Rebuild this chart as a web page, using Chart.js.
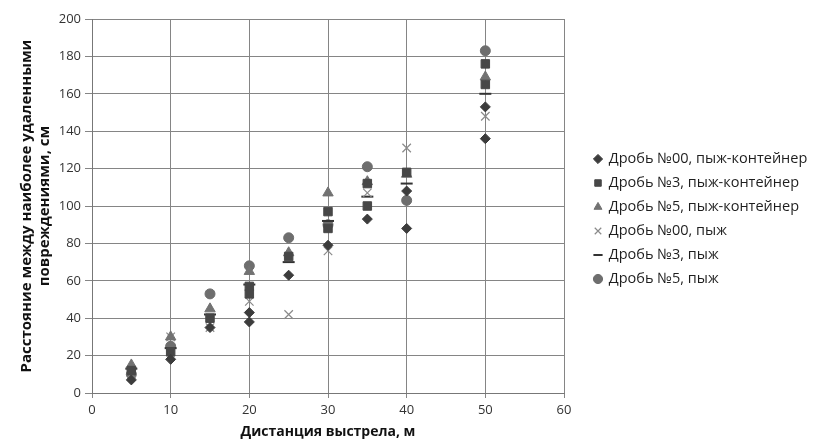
<!DOCTYPE html>
<html>
<head>
<meta charset="utf-8">
<script src="https://cdn.jsdelivr.net/npm/chart.js@4/dist/chart.umd.min.js"></script>
<style>
  html, body { margin: 0; padding: 0; background: #fff; }
  #wrap { width: 818px; height: 443px; }
</style>
</head>
<body>
<div id="wrap"><canvas id="chart"></canvas></div>
<script>
const xTicks = [0, 10, 20, 30, 40, 50, 60];
const yTicks = [0, 20, 40, 60, 80, 100, 120, 140, 160, 180, 200];

const seriesNames = [
  "Дробь №00, пыж-контейнер",
  "Дробь №3, пыж-контейнер",
  "Дробь №5, пыж-контейнер",
  "Дробь №00, пыж",
  "Дробь №3, пыж",
  "Дробь №5, пыж",
];

// each series: distances + values (some distances have two shots)
const d00wcX = [5, 10, 15, 20, 20, 25, 30, 35, 40, 40, 50, 50];
const d00wcY = [7, 18, 35, 43, 38, 63, 79, 93, 88, 108, 153, 136];

const d3wcX = [5, 10, 15, 20, 20, 25, 30, 30, 35, 35, 40, 50, 50];
const d3wcY = [12, 22, 40, 57, 53, 73, 97, 88, 112, 100, 118, 176, 165];

const d5wcX = [5, 10, 15, 20, 25, 30, 35, 40, 50];
const d5wcY = [15, 30, 45, 65, 75, 107, 113, 117, 169];

const d00X = [5, 10, 15, 20, 25, 30, 35, 40, 50];
const d00Y = [10, 30, 35, 49, 42, 76, 107, 131, 148];

const d3X = [5, 10, 15, 20, 25, 30, 35, 40, 50];
const d3Y = [13, 24, 42, 58, 70, 92, 105, 112, 160];

const d5X = [5, 10, 15, 20, 25, 30, 35, 40, 50];
const d5Y = [10, 25, 53, 68, 83, 90, 121, 103, 183];

function pts(xs, ys) {
  return xs.map((x, i) => ({ x, y: ys[i] }));
}

const STYLES = [
  { pointStyle: "rectRot", color: "#3c3c3c", radius: 5 },
  { pointStyle: "rect", color: "#474747", radius: 6 },
  { pointStyle: "triangle", color: "#727272", radius: 6 },
  { pointStyle: "crossRot", color: "#8a8a8a", radius: 6, border: 1.2 },
  { pointStyle: "line", color: "#333333", radius: 6, border: 2 },
  { pointStyle: "circle", color: "#6e6e6e", radius: 5 },
];

const seriesData = [
  pts(d00wcX, d00wcY),
  pts(d3wcX, d3wcY),
  pts(d5wcX, d5wcY),
  pts(d00X, d00Y),
  pts(d3X, d3Y),
  pts(d5X, d5Y),
];

const datasets = seriesNames.map((name, i) => ({
  label: name,
  data: seriesData[i],
  pointStyle: STYLES[i].pointStyle,
  pointRadius: STYLES[i].radius,
  pointHoverRadius: STYLES[i].radius,
  backgroundColor: STYLES[i].color,
  borderColor: STYLES[i].color,
  pointBorderWidth: STYLES[i].border || 1,
  borderWidth: STYLES[i].border || 1,
}));

// plot box in the scan: x 92..564, y 19..393
const PLOT_LEFT = 92;
const PLOT_RIGHT = 564;
const PLOT_TOP = 19;
const PLOT_BOTTOM = 393;
const LEGEND_SHIFT_X = 21;
const LEGEND_SHIFT_Y = -12;

const whiteBg = {
  id: "whiteBg",
  beforeDraw(chart) {
    const { ctx } = chart;
    ctx.save();
    ctx.fillStyle = "#fff";
    ctx.fillRect(0, 0, chart.width, chart.height);
    ctx.restore();
  },
};

// keep the legend column a fixed width so the plot ends where the scan does
const legendPlacement = {
  id: "legendPlacement",
  afterInit(chart) {
    const lg = chart.legend;
    const fit = lg.fit.bind(lg);
    lg.fit = function () {
      fit();
      this.width = chart.width - PLOT_RIGHT;
    };
  },
  afterLayout(chart) {
    const lg = chart.legend;
    lg.left += LEGEND_SHIFT_X;
    lg.right += LEGEND_SHIFT_X;
    lg.top += LEGEND_SHIFT_Y;
    lg.bottom += LEGEND_SHIFT_Y;
  },
};

const FONT = "'Open Sans', sans-serif";

new Chart(document.getElementById("chart"), {
  type: "scatter",
  data: { datasets },
  plugins: [whiteBg, legendPlacement],
  options: {
    responsive: true,
    maintainAspectRatio: false,
    animation: false,
    layout: { padding: { top: PLOT_TOP, right: 0, bottom: 0, left: 0 } },
    plugins: {
      legend: {
        position: "right",
        align: "center",
        labels: {
          usePointStyle: true,
          boxHeight: 6.5,
          boxWidth: 7,
          padding: 9.5,
          color: "#1e1e1e",
          font: { family: FONT, size: 14.5 },
        },
      },
      tooltip: { enabled: false },
    },
    scales: {
      x: {
        type: "linear",
        min: 0,
        max: 60,
        afterBuildTicks: (axis) => {
          axis.ticks = xTicks.map((v) => ({ value: v }));
        },
        afterFit: (axis) => {
          axis.height = 443 - PLOT_BOTTOM;
        },
        grid: { color: "#858585", lineWidth: 1, tickLength: 5 },
        border: { color: "#777" },
        ticks: { color: "#333", font: { family: FONT, size: 13 }, padding: 4 },
        title: {
          display: true,
          text: "Дистанция выстрела, м",
          color: "#111",
          font: { family: FONT, size: 14, weight: "bold" },
          padding: { top: 0, bottom: 3 },
        },
      },
      y: {
        type: "linear",
        min: 0,
        max: 200,
        afterBuildTicks: (axis) => {
          axis.ticks = yTicks.map((v) => ({ value: v }));
        },
        afterFit: (axis) => {
          axis.width = PLOT_LEFT;
        },
        grid: { color: "#858585", lineWidth: 1, tickLength: 7 },
        border: { color: "#777" },
        ticks: { color: "#333", font: { family: FONT, size: 13 }, padding: 4 },
        title: {
          display: true,
          text: ["Расстояние между наиболее удаленными", "повреждениями, см"],
          color: "#111",
          font: { family: FONT, size: 15, weight: "bold" },
          padding: { top: 18, bottom: 0 },
        },
      },
    },
  },
});
</script>
</body>
</html>
